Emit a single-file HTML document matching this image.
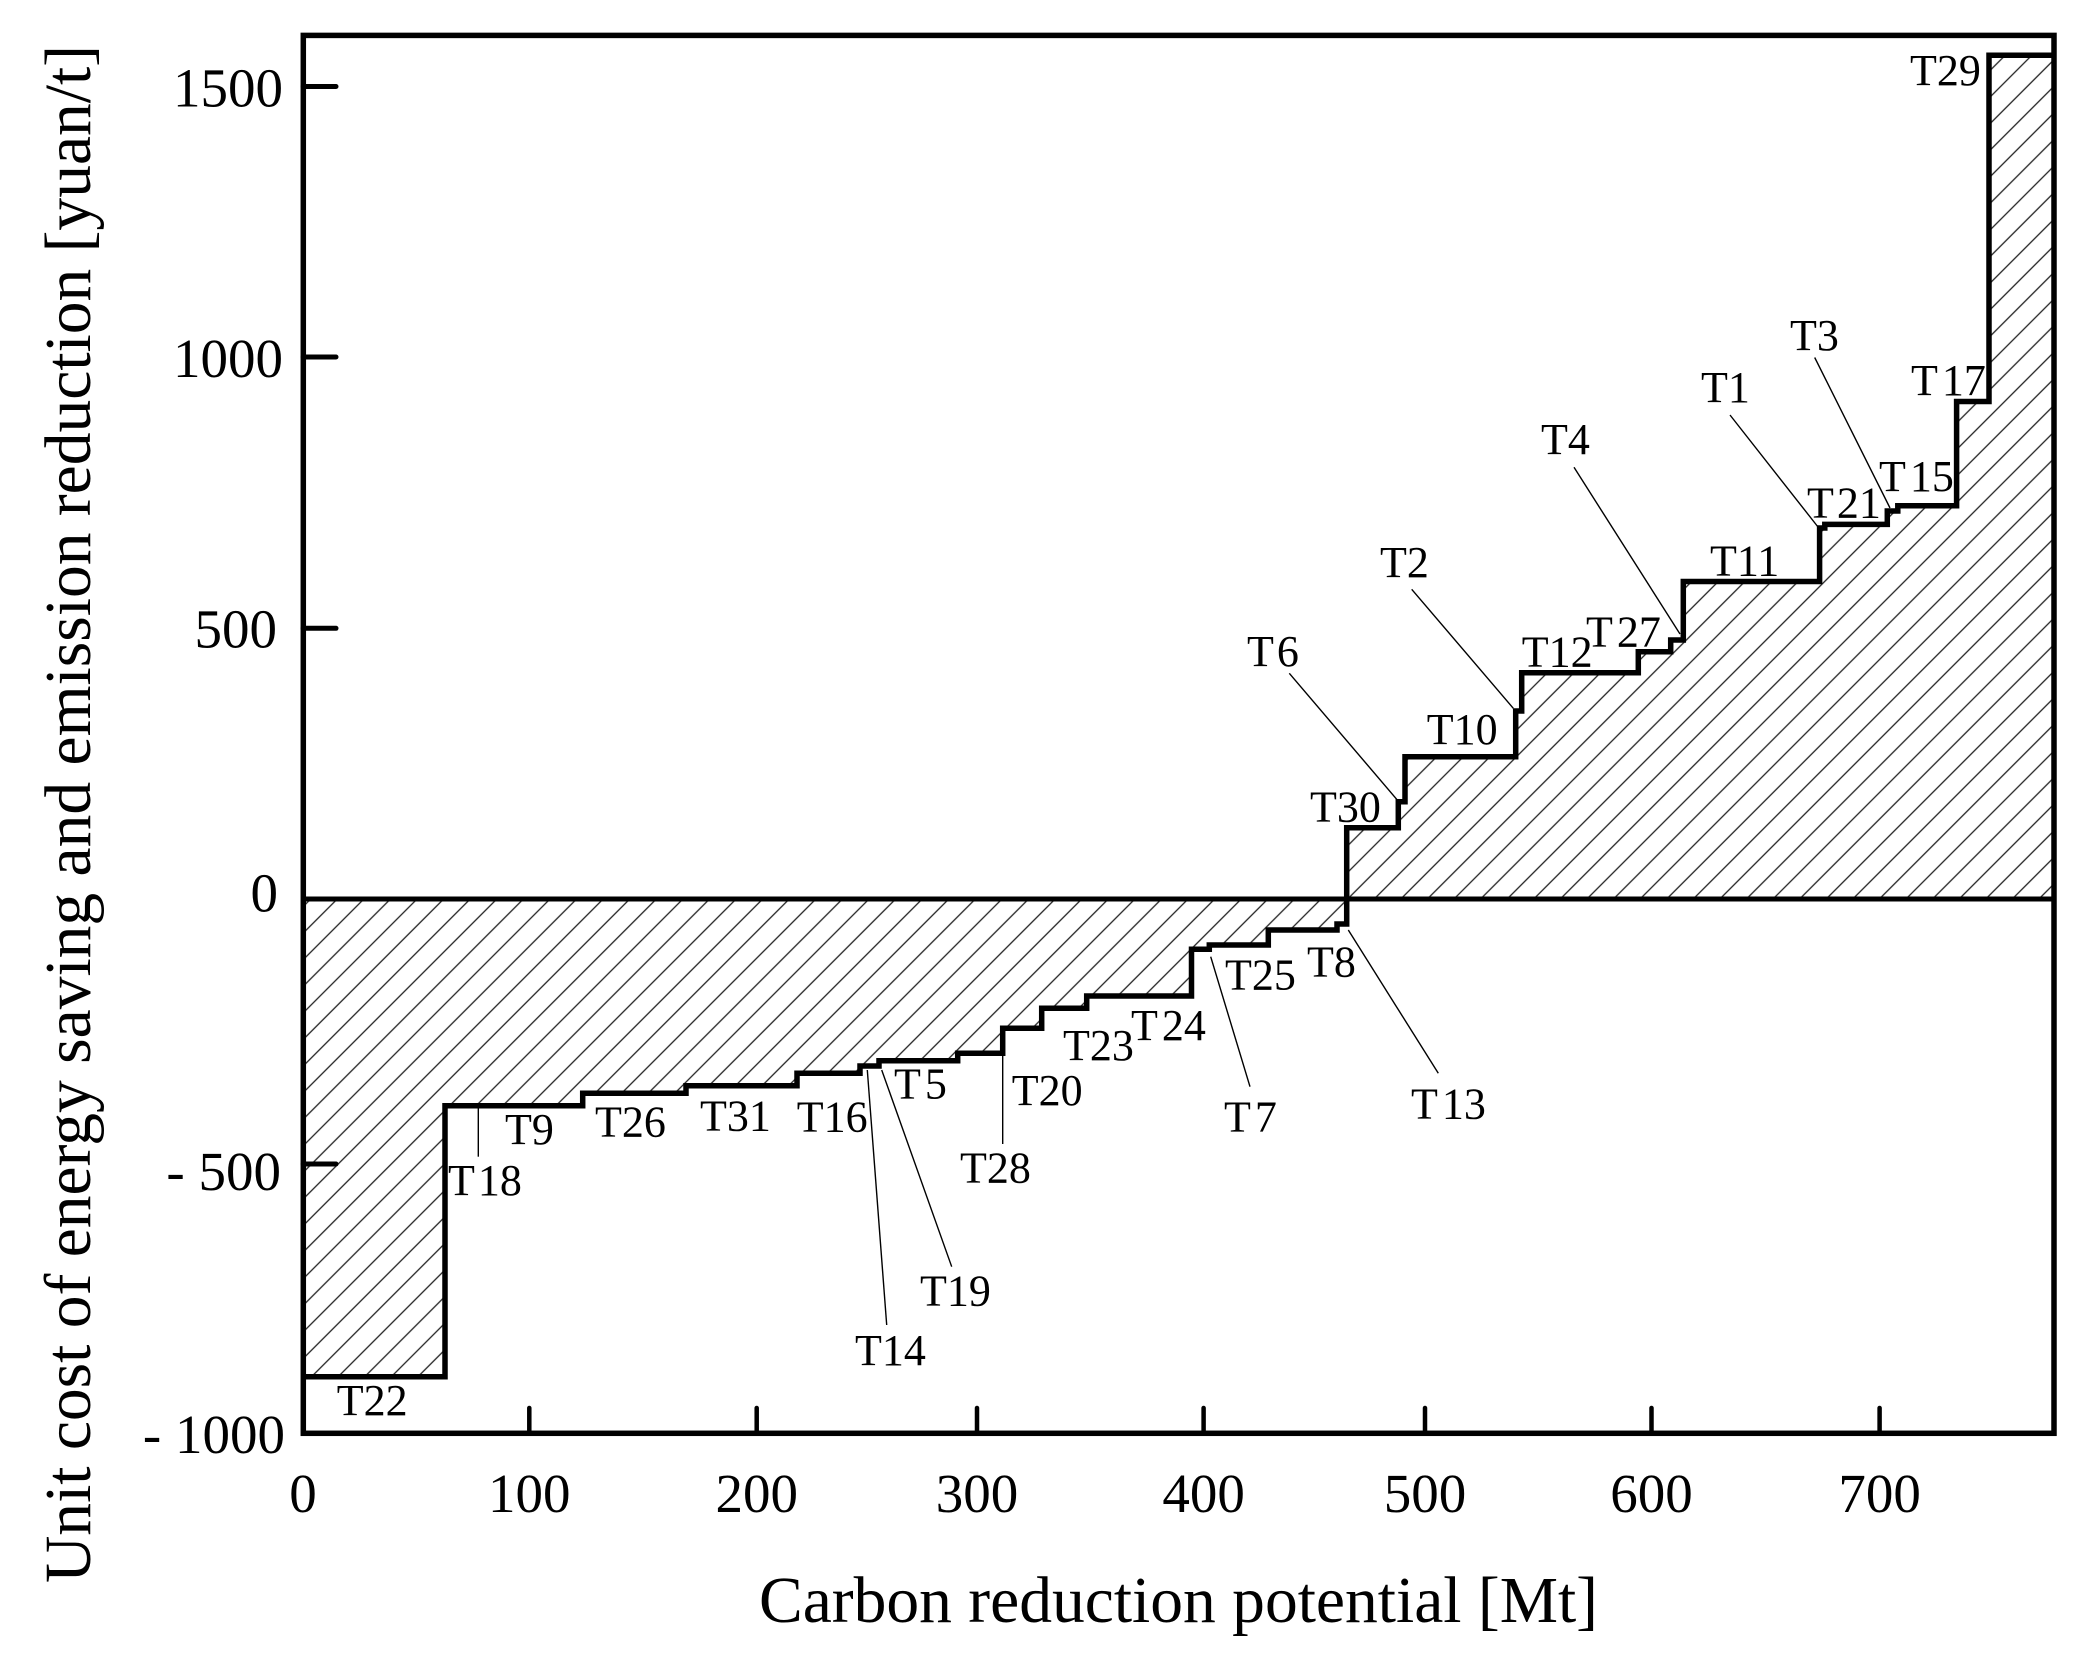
<!DOCTYPE html>
<html>
<head>
<meta charset="utf-8">
<style>
  html, body { margin:0; padding:0; background:#fff; }
  svg { display:block; }
  text { font-family: "Liberation Serif", "Times New Roman", serif; fill:#000; }
  .tick { font-size:55px; }
  .lab { font-size:44px; }
  .title { font-size:66px; }
</style>
</head>
<body>
<svg width="2084" height="1656" viewBox="0 0 2084 1656" xmlns="http://www.w3.org/2000/svg">
  <defs>
    <pattern id="hatch" patternUnits="userSpaceOnUse" width="18.8" height="20" patternTransform="rotate(45)">
      <line x1="9.4" y1="-2" x2="9.4" y2="22" stroke="#222" stroke-width="1.3"/>
    </pattern>
  </defs>
  <rect x="0" y="0" width="2084" height="1656" fill="#fff"/>

  <!-- hatched area between curve and zero line -->
  <path fill="url(#hatch)" fill-rule="evenodd" d="M303,1376.7 H445 V1105.7 H582.7 V1093.3 H686 V1085.7 H797 V1073.3 H860 V1066 H879 V1060.7 H957.7 V1053.3 H1002.7 V1028.3 H1041.7 V1008.3 H1086.7 V996 H1191.5 V949.3 H1209.3 V945 H1268.3 V930 H1337 V924 H1346.7 V827.7 H1398.3 V801.7 H1405 V756.7 H1515.7 V711 H1521.7 V672.7 H1638.3 V651.7 H1670.7 V640 H1683.3 V581.5 H1819.6 V528 H1824.8 V524.4 H1887.3 V511 H1897.8 V505.8 H1956.6 V401.5 H1989 V55.3 H2054 V899 H303 Z"/>

  <!-- zero line -->
  <line x1="303" y1="899" x2="2054" y2="899" stroke="#000" stroke-width="5"/>

  <!-- step curve -->
  <path fill="none" stroke="#000" stroke-width="5.5" stroke-linejoin="miter" d="M303,1376.7 H445 V1105.7 H582.7 V1093.3 H686 V1085.7 H797 V1073.3 H860 V1066 H879 V1060.7 H957.7 V1053.3 H1002.7 V1028.3 H1041.7 V1008.3 H1086.7 V996 H1191.5 V949.3 H1209.3 V945 H1268.3 V930 H1337 V924 H1346.7 V827.7 H1398.3 V801.7 H1405 V756.7 H1515.7 V711 H1521.7 V672.7 H1638.3 V651.7 H1670.7 V640 H1683.3 V581.5 H1819.6 V528 H1824.8 V524.4 H1887.3 V511 H1897.8 V505.8 H1956.6 V401.5 H1989 V55.3 H2054"/>

  <!-- frame -->
  <rect x="303.3" y="35.4" width="1750.7" height="1397.9" fill="none" stroke="#000" stroke-width="5.5"/>

  <!-- y ticks -->
  <g stroke="#000" stroke-width="5" stroke-linecap="round">
    <line x1="303" y1="86.5" x2="336" y2="86.5"/>
    <line x1="303" y1="357" x2="336" y2="357"/>
    <line x1="303" y1="628.3" x2="336" y2="628.3"/>
    <line x1="303" y1="1164" x2="336" y2="1164"/>
  </g>
  <!-- x ticks -->
  <g stroke="#000" stroke-width="4.5" stroke-linecap="round">
    <line x1="529.3" y1="1433" x2="529.3" y2="1408"/>
    <line x1="756.7" y1="1433" x2="756.7" y2="1408"/>
    <line x1="977" y1="1433" x2="977" y2="1408"/>
    <line x1="1203.6" y1="1433" x2="1203.6" y2="1408"/>
    <line x1="1425" y1="1433" x2="1425" y2="1408"/>
    <line x1="1651.5" y1="1433" x2="1651.5" y2="1408"/>
    <line x1="1879.6" y1="1433" x2="1879.6" y2="1408"/>
  </g>

  <!-- y tick labels -->
  <g class="tick" text-anchor="end">
    <text class="tick" x="283" y="106.5">1500</text>
    <text class="tick" x="283" y="377">1000</text>
    <text class="tick" x="277" y="647.7">500</text>
    <text class="tick" x="278" y="911.7">0</text>
    <text class="tick" x="281" y="1190" xml:space="preserve">- 500</text>
    <text class="tick" x="285" y="1453" xml:space="preserve">- 1000</text>
  </g>

  <!-- x tick labels -->
  <g text-anchor="middle">
    <text class="tick" x="303" y="1512">0</text>
    <text class="tick" x="529.3" y="1512">100</text>
    <text class="tick" x="756.7" y="1512">200</text>
    <text class="tick" x="977" y="1512">300</text>
    <text class="tick" x="1203.6" y="1512">400</text>
    <text class="tick" x="1425" y="1512">500</text>
    <text class="tick" x="1651.5" y="1512">600</text>
    <text class="tick" x="1879.6" y="1512">700</text>
  </g>

  <!-- axis titles -->
  <text class="title" x="759" y="1622" textLength="839" lengthAdjust="spacingAndGlyphs">Carbon reduction potential [Mt]</text>
  <text class="title" transform="translate(90,1583) rotate(-90)" x="0" y="0" textLength="1538" lengthAdjust="spacingAndGlyphs">Unit cost of energy saving and emission reduction [yuan/t]</text>

  <!-- leader lines -->
  <g stroke="#000" stroke-width="1.4">
    <line x1="478.3" y1="1106" x2="478.3" y2="1156.7"/>
    <line x1="867.3" y1="1070" x2="886.7" y2="1325"/>
    <line x1="881.7" y1="1070" x2="951.7" y2="1266.7"/>
    <line x1="1002.7" y1="1053" x2="1002.7" y2="1144"/>
    <line x1="1210.7" y1="956.7" x2="1250" y2="1086.7"/>
    <line x1="1348.3" y1="930" x2="1438.3" y2="1073.3"/>
    <line x1="1289.3" y1="673.3" x2="1396.7" y2="799.3"/>
    <line x1="1411.7" y1="589.3" x2="1513.3" y2="708.3"/>
    <line x1="1574" y1="467.3" x2="1680" y2="634"/>
    <line x1="1730" y1="415" x2="1819.6" y2="529"/>
    <line x1="1814.7" y1="357.5" x2="1890" y2="508"/>
  </g>

  <!-- annotation labels -->
  <g>
    <text class="lab" x="1910" y="85">T29</text>
    <text class="lab" x="1911" y="395">T<tspan dx="4">17</tspan></text>
    <text class="lab" x="1790" y="350">T3</text>
    <text class="lab" x="1701" y="402">T1</text>
    <text class="lab" x="1879" y="491">T<tspan dx="4">15</tspan></text>
    <text class="lab" x="1807" y="517.7">T<tspan dx="3">21</tspan></text>
    <text class="lab" x="1710" y="575.4">T11</text>
    <text class="lab" x="1541" y="454">T4</text>
    <text class="lab" x="1586" y="646.7">T<tspan dx="4">27</tspan></text>
    <text class="lab" x="1521.7" y="666.7">T12</text>
    <text class="lab" x="1380" y="577">T2</text>
    <text class="lab" x="1426.7" y="744">T10</text>
    <text class="lab" x="1247" y="666">T<tspan dx="3">6</tspan></text>
    <text class="lab" x="1310" y="821.7">T30</text>
    <text class="lab" x="1307" y="976.7">T8</text>
    <text class="lab" x="1411" y="1118.3">T<tspan dx="4">13</tspan></text>
    <text class="lab" x="1225" y="989.3">T25</text>
    <text class="lab" x="1224" y="1131.7">T<tspan dx="4">7</tspan></text>
    <text class="lab" x="1131" y="1040">T<tspan dx="4">24</tspan></text>
    <text class="lab" x="1063" y="1060">T23</text>
    <text class="lab" x="1011.7" y="1105">T20</text>
    <text class="lab" x="960" y="1182.3">T28</text>
    <text class="lab" x="894" y="1098.3">T<tspan dx="4">5</tspan></text>
    <text class="lab" x="796.7" y="1131.7">T16</text>
    <text class="lab" x="920" y="1305.7">T19</text>
    <text class="lab" x="855" y="1365">T14</text>
    <text class="lab" x="700" y="1130.7">T31</text>
    <text class="lab" x="595" y="1136.7">T26</text>
    <text class="lab" x="505" y="1144">T9</text>
    <text class="lab" x="448" y="1195">T<tspan dx="3">18</tspan></text>
    <text class="lab" x="336.7" y="1415">T22</text>
  </g>
</svg>
</body>
</html>
